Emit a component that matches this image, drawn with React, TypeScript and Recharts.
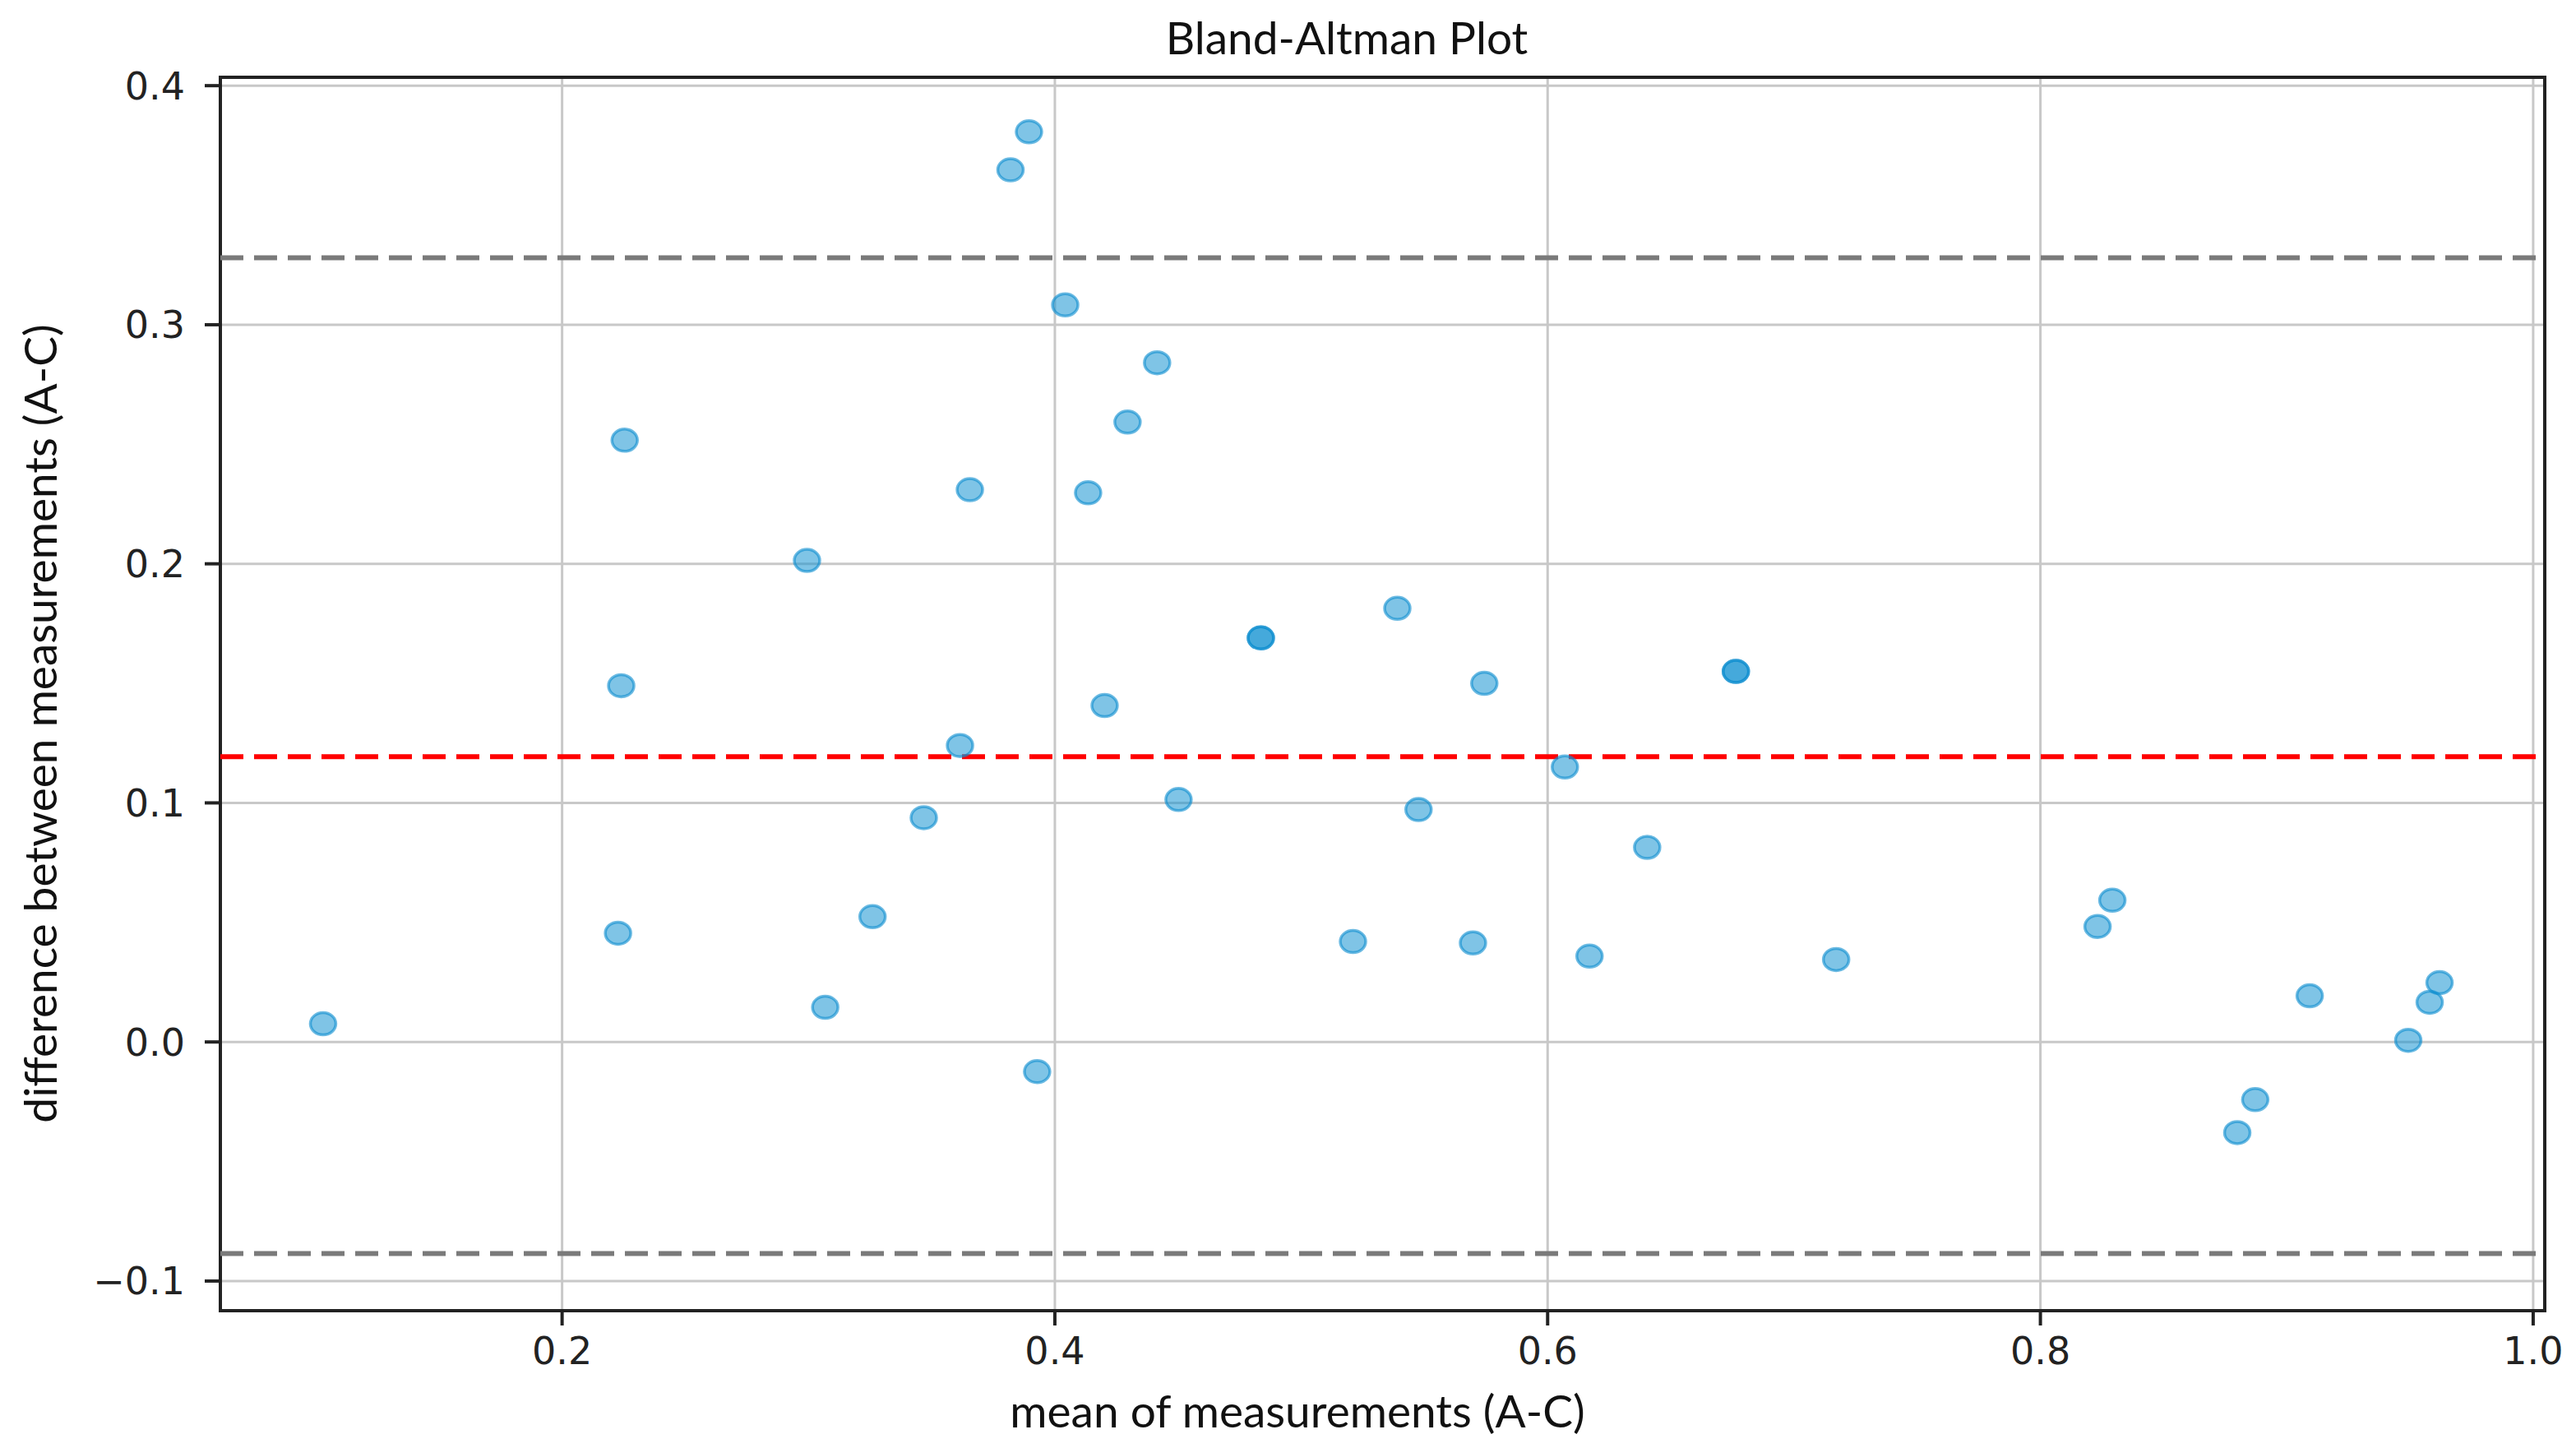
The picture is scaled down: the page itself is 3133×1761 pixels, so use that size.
import { ScatterChart, Scatter, XAxis, YAxis, CartesianGrid, ReferenceLine, ReferenceArea } from "recharts";

const meanValues = [
  0.103, 0.2254, 0.224, 0.2227, 0.2994, 0.3068, 0.326, 0.3468, 0.3615, 0.3655,
  0.382, 0.3895, 0.3928, 0.4042, 0.4135, 0.4202, 0.4295, 0.4415, 0.4502, 0.4836,
  0.4836, 0.521, 0.539, 0.5476, 0.5697, 0.5743, 0.607, 0.617, 0.6404, 0.6764,
  0.6764, 0.7171, 0.8232, 0.8292, 0.8799, 0.8872, 0.9093, 0.9493, 0.958, 0.962,
];
const diffValues = [
  0.0076, 0.2517, 0.149, 0.0455, 0.2014, 0.0145, 0.0524, 0.0938, 0.124, 0.231,
  0.3648, 0.3807, -0.0124, 0.3083, 0.2297, 0.1407, 0.2593, 0.2841, 0.1014, 0.169,
  0.169, 0.042, 0.1814, 0.0972, 0.0414, 0.15, 0.115, 0.0359, 0.0814, 0.155,
  0.155, 0.0345, 0.0483, 0.0593, -0.0379, -0.0241, 0.0193, 0.0007, 0.0166, 0.0248,
];

const meanDiff = 0.1193;
const upperLimit = 0.328;
const lowerLimit = -0.0885;

const xTicks = [0.2, 0.4, 0.6, 0.8, 1.0];
const yTicks = [-0.1, 0.0, 0.1, 0.2, 0.3, 0.4];
const xDomain = [0.0613, 1.0047];
const yDomain = [-0.1124, 0.4035];

const points = meanValues.map((m, i) => ({ mean: m, diff: diffValues[i] }));

const Dot = (props: any) => (
  <ellipse
    cx={props.cx}
    cy={props.cy}
    rx={15.5}
    ry={13.5}
    fill="#1694d2"
    fillOpacity={0.55}
    stroke="#0a8ccf"
    strokeOpacity={0.6}
    strokeWidth={3.5}
  />
);

const tickStyle = { fontSize: 46, fill: "#222", fontFamily: "DejaVu Sans" };
const labelFont = "Lato, 'Open Sans', sans-serif";

export default function App() {
  return (
    <div style={{ position: "absolute", left: 0, top: 0, width: 3133, height: 1761, background: "#fff" }}>
      <ScatterChart width={3133} height={1761} margin={{ top: 94, right: 38, bottom: 67, left: 168 }}>
        <CartesianGrid stroke="#c8c8c8" strokeWidth={3} />
        <XAxis
          type="number"
          dataKey="mean"
          domain={xDomain}
          ticks={xTicks}
          allowDataOverflow
          height={100}
          axisLine={false}
          tickSize={18}
          tickMargin={14}
          tickLine={{ stroke: "#222", strokeWidth: 4 }}
          tick={tickStyle}
          tickFormatter={(v: number) => v.toFixed(1)}
        />
        <YAxis
          type="number"
          dataKey="diff"
          domain={yDomain}
          ticks={yTicks}
          allowDataOverflow
          width={100}
          axisLine={false}
          tickSize={19}
          tickMargin={24}
          tickLine={{ stroke: "#222", strokeWidth: 4 }}
          tick={tickStyle}
          tickFormatter={(v: number) => (v < 0 ? "\u2212" + Math.abs(v).toFixed(1) : v.toFixed(1))}
        />
        <ReferenceLine y={upperLimit} stroke="#7a7a7a" strokeWidth={6} strokeDasharray="28 13" />
        <ReferenceLine y={lowerLimit} stroke="#7a7a7a" strokeWidth={6} strokeDasharray="28 13" />
        <ReferenceLine y={meanDiff} stroke="#ff0000" strokeWidth={6} strokeDasharray="28 13" />
        <Scatter data={points} shape={Dot} isAnimationActive={false} />
        <ReferenceArea
          x1={xDomain[0]}
          x2={xDomain[1]}
          y1={yDomain[0]}
          y2={yDomain[1]}
          fill="none"
          fillOpacity={0}
          stroke="#222"
          strokeWidth={4}
        />
      </ScatterChart>
      <div
        style={{
          position: "absolute",
          left: 0,
          width: 3276,
          top: 12,
          textAlign: "center",
          fontFamily: labelFont,
          fontSize: 55,
          color: "#111",
        }}
      >
        Bland-Altman Plot
      </div>
      <div
        style={{
          position: "absolute",
          left: 0,
          width: 3156,
          top: 1682,
          textAlign: "center",
          fontFamily: labelFont,
          fontSize: 55,
          color: "#111",
        }}
      >
        mean of measurements (A-C)
      </div>
      <div
        style={{
          position: "absolute",
          left: 48,
          top: 880,
          transform: "translate(-50%, -50%) rotate(-90deg)",
          whiteSpace: "nowrap",
          fontFamily: labelFont,
          fontSize: 55,
          color: "#111",
        }}
      >
        difference between measurements (A-C)
      </div>
    </div>
  );
}
